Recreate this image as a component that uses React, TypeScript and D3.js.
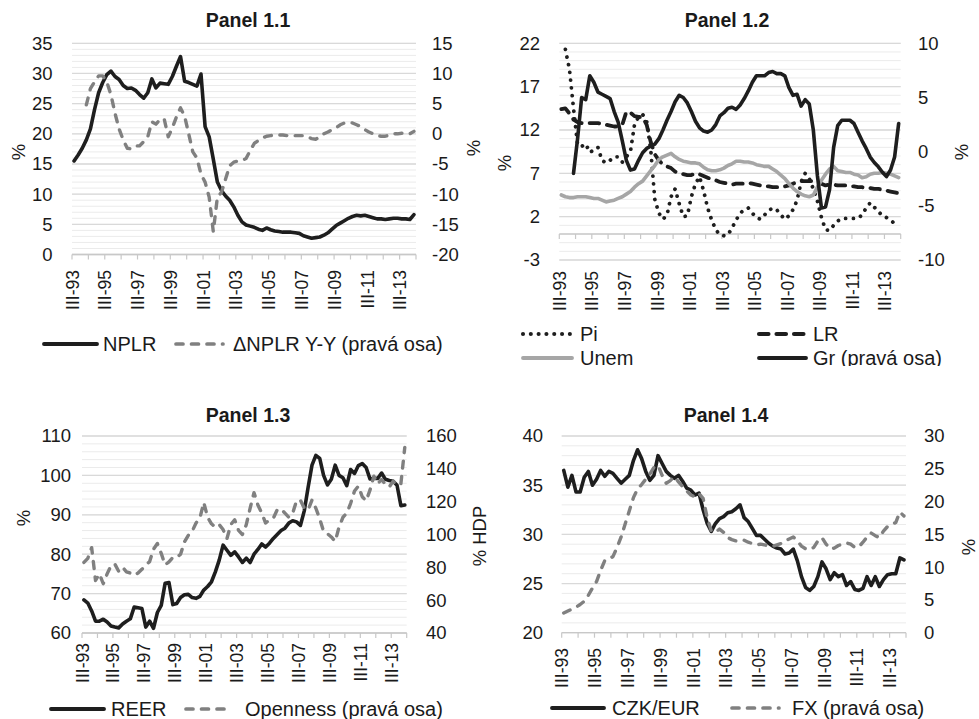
import React from 'react';
import * as d3 from 'd3';

const FONT = '"Liberation Sans", Arial, Helvetica, sans-serif';

// Quarterly categories Q3 1993 .. Q2 2014
const ROMAN = ['I', 'II', 'III', 'IV'];
const quarters: string[] = d3.range(84).map((i) => {
  const q = (2 + i) % 4;
  const y = 1993 + Math.floor((2 + i) / 4);
  return ROMAN[q] + '-' + String(y % 100).padStart(2, '0');
});
const labelEvery = 8;
const tickEvery = 4;

// Panel 1.1
const nplr = [15.5,16.5,17.6,19.0,20.8,24.0,26.8,28.5,29.8,30.4,
 29.5,29.0,28.0,27.5,27.6,27.2,26.5,25.9,26.8,29.1,
 27.6,28.4,28.3,28.2,29.5,31.2,32.8,28.7,28.5,28.2,
 27.9,29.9,21.2,19.5,15.8,12.0,10.6,9.7,9.0,7.9,
 6.5,5.4,4.9,4.7,4.5,4.2,4.0,4.4,4.1,3.9,
 3.8,3.7,3.7,3.7,3.6,3.5,3.1,2.9,2.7,2.8,
 2.9,3.2,3.6,4.2,4.8,5.2,5.6,6.0,6.3,6.5,
 6.4,6.5,6.3,6.1,5.9,5.9,5.8,5.9,6.0,6.0,
 5.9,5.9,5.8,6.6];
const dNplr = [null,null,null,4.8,7.5,8.6,9.6,9.6,8.6,6.5,
 3.4,0.8,-1.0,-2.4,-2.5,-2.0,-2.0,-1.3,-0.5,2.0,
 1.6,2.4,2.5,-0.5,1.0,2.8,4.3,2.9,0.0,-3.0,
 -4.0,-6.7,-8.0,-10.5,-16.2,-10.5,-9.7,-7.5,-5.3,-4.7,
 -4.5,-4.4,-4.1,-2.8,-1.6,-1.1,-0.7,-0.4,-0.3,-0.2,
 -0.2,-0.2,-0.3,-0.4,-0.3,-0.3,-0.3,-0.5,-0.8,-0.9,
 -0.5,0.0,0.3,0.7,1.0,1.5,1.8,1.9,1.8,1.5,
 1.2,0.7,0.3,0.0,-0.3,-0.4,-0.4,-0.2,0.0,0.0,
 0.1,0.1,0.0,0.4];

// Panel 1.2
const pi = [null,21.3,19.0,14.5,10.3,10.1,10.4,9.4,9.7,10.0,
 8.5,8.2,8.5,8.9,8.9,8.3,8.9,9.5,12.6,13.5,
 13.8,13.0,9.7,4.0,2.4,1.7,2.2,4.3,5.2,3.5,
 2.0,2.1,4.3,5.8,6.6,5.0,3.0,1.6,0.5,-0.1,
 -0.2,-0.1,0.7,1.6,2.4,2.8,3.0,2.4,1.9,1.7,
 2.2,2.7,3.0,2.8,2.2,1.7,2.1,2.8,3.9,6.0,
 7.0,6.4,5.2,3.8,1.9,0.5,0.4,1.0,1.5,1.8,
 1.8,1.8,1.8,1.8,2.2,3.0,3.6,3.1,2.6,2.1,
 1.9,1.6,1.2,0.9];
const lr = [14.4,14.5,13.9,13.2,12.9,12.8,12.8,12.8,12.8,12.8,
 12.7,12.6,12.5,12.4,12.4,12.6,14.1,14.0,13.6,13.5,
 13.5,12.6,10.6,9.2,8.5,8.0,7.8,7.6,7.2,7.0,
 6.9,6.8,6.8,7.0,6.9,6.7,6.5,6.3,6.2,6.0,
 5.9,5.8,5.7,5.8,5.8,5.8,5.9,5.8,5.7,5.6,
 5.5,5.5,5.4,5.4,5.4,5.5,5.6,5.8,6.0,6.1,
 6.1,6.1,6.1,5.9,5.8,5.6,5.7,5.7,5.6,5.6,
 5.6,5.5,5.5,5.4,5.4,5.3,5.3,5.2,5.2,5.1,
 5.0,4.9,4.8,4.7];
const unem = [4.5,4.3,4.2,4.2,4.3,4.3,4.3,4.2,4.1,4.1,
 3.9,3.7,3.8,3.9,4.1,4.3,4.6,4.9,5.4,5.8,
 6.1,6.7,7.3,7.9,8.6,8.9,9.1,9.3,8.9,8.6,
 8.4,8.3,8.2,8.2,8.1,7.7,7.4,7.3,7.3,7.4,
 7.6,7.9,8.1,8.4,8.4,8.3,8.3,8.2,8.0,7.9,
 7.8,7.8,7.5,7.2,6.8,6.4,5.8,5.3,4.9,4.6,
 4.4,4.3,4.5,5.4,6.2,6.9,7.5,7.8,7.3,7.2,
 7.1,7.1,6.9,6.8,6.5,6.6,6.9,7.0,7.0,7.1,
 7.0,6.9,6.7,6.5];
const gr = [null,null,null,-2.0,1.2,5.0,4.8,7.0,6.4,5.5,
 5.3,5.1,4.9,3.7,2.7,1.0,-0.8,-1.7,-1.6,-0.8,
 -0.1,0.3,0.5,0.7,1.2,2.0,2.9,3.7,4.6,5.2,
 5.0,4.5,3.7,2.8,2.2,1.9,1.8,2.0,2.5,3.3,
 3.6,4.0,4.1,3.9,4.3,4.9,5.6,6.4,7.0,7.0,
 7.0,7.3,7.4,7.2,7.2,7.0,5.9,5.2,5.3,4.2,
 4.8,4.4,2.0,-2.2,-5.2,-5.1,-3.5,0.4,2.4,2.9,
 2.9,2.9,2.6,1.8,1.0,0.3,-0.5,-1.0,-1.4,-1.9,
 -2.3,-1.7,-0.5,2.6];

// Panel 1.3
const reer = [68.4,67.6,65.6,63.0,63.0,63.5,62.8,61.8,61.5,61.3,
 62.3,63.0,63.6,66.6,66.4,66.2,61.5,63.0,61.2,65.2,
 67.0,72.6,72.8,67.2,67.5,69.0,69.7,69.8,69.0,68.8,
 69.3,70.9,71.8,73.0,75.5,78.5,82.3,81.0,79.7,80.6,
 79.3,77.9,79.0,77.9,80.0,81.2,82.6,81.8,82.8,84.0,
 85.0,86.0,86.6,87.9,88.5,88.2,87.3,91.0,97.0,102.6,
 105.1,104.3,100.0,97.6,99.0,102.6,100.0,99.4,97.4,101.5,
 100.5,102.5,103.0,102.0,99.1,99.3,99.2,100.6,99.0,98.7,
 98.5,97.5,92.3,92.5];
const openness = [83.0,85.5,92.0,72.0,76.0,70.0,76.0,81.0,82.0,77.5,
 80.0,77.3,76.5,75.2,76.5,78.8,81.5,83.5,91.0,94.5,
 88.5,81.5,83.3,86.0,86.0,88.0,95.5,99.5,102.0,107.0,
 110.0,119.5,110.5,106.5,104.5,106.0,103.0,97.5,106.0,109.0,
 102.5,100.0,106.0,116.0,125.5,118.0,113.0,107.0,109.0,110.0,
 115.0,115.5,113.0,110.5,113.0,120.5,121.0,116.0,115.0,121.0,
 116.0,109.5,102.0,100.5,98.5,95.8,104.5,110.5,113.0,119.0,
 126.5,129.5,123.0,120.5,127.0,135.5,131.0,133.5,130.5,129.0,
 132.5,130.0,131.0,153.0];

// Panel 1.4
const czkEur = [36.5,34.8,36.0,34.3,34.3,35.8,36.4,35.0,35.6,36.5,
 35.9,36.4,36.2,35.7,35.2,35.6,36.0,37.5,38.6,37.7,
 36.4,35.5,36.0,38.0,37.2,36.4,36.0,35.7,36.0,35.4,
 34.7,34.5,34.0,34.2,32.5,31.1,30.3,31.1,31.6,31.8,
 32.2,32.3,32.6,33.0,31.7,31.3,30.6,29.9,29.9,29.5,
 29.1,28.8,28.6,28.5,28.0,28.1,28.5,27.3,25.7,24.6,
 24.3,24.7,25.7,27.2,26.5,25.4,26.1,25.7,25.9,24.8,
 25.2,24.4,24.3,24.5,25.7,24.8,25.7,24.7,25.4,25.9,
 26.0,26.0,27.6,27.4];
const fx = [3.0,3.3,3.6,3.9,4.3,4.8,5.7,6.8,7.8,9.5,
 11.0,11.3,11.6,13.0,14.6,16.6,18.6,20.6,21.9,22.6,
 23.4,24.2,25.2,25.5,24.0,22.8,23.2,23.8,23.0,22.3,
 21.6,21.0,20.7,21.2,20.5,17.5,15.5,15.3,15.8,15.3,
 14.5,14.2,14.0,14.0,14.1,13.8,13.6,13.4,13.5,13.4,
 13.2,13.2,13.4,13.6,14.0,14.3,14.6,14.0,13.2,12.8,
 12.7,13.0,14.0,14.5,13.5,12.8,12.9,13.3,13.5,13.7,
 13.5,13.0,13.1,13.8,14.6,15.2,14.8,14.5,15.5,16.2,
 16.5,16.8,18.4,17.8];

const BLACK = '#1e1e1e';
const GRAY = '#808080';
const LGRAY = '#a6a6a6';
const TEXT = '#1a1a1a';

type Ser = {
  name: string;
  values: (number | null)[];
  axis: 'L' | 'R';
  color: string;
  width: number;
  dash?: string;
  cap?: 'round' | 'butt';
};
type Leg = { s: number; x1: number; x2: number; y: number; tx: number };
type Cfg = {
  id: string;
  title: string; titleX: number; titleY: number;
  x0: number; x1: number; yTop: number; yBot: number;
  left: [number, number, number, number];
  right: [number, number, number];
  axisAt?: number;
  lLabX: number; rLabX: number;
  lTitle?: { t: string; x: number; y: number };
  rTitle: { t: string; x: number; y: number };
  xLabTop: number;
  series: Ser[];
  legend: Leg[];
  clipY?: number;
};

const solid = (name: string, values: (number | null)[], axis: 'L' | 'R', color = BLACK): Ser =>
  ({ name, values, axis, color, width: 3.6, cap: 'round' });
const dashed = (name: string, values: (number | null)[], axis: 'L' | 'R', color = GRAY): Ser =>
  ({ name, values, axis, color, width: 3.4, dash: '7,8.5', cap: 'round' });

const panels: Cfg[] = [
  {
    id: 'p11', title: 'Panel 1.1', titleX: 248, titleY: 27,
    x0: 72, x1: 416, yTop: 43.3, yBot: 254.5,
    left: [0, 35, 5, 1], right: [-20, 15, 5],
    lLabX: 52.5, rLabX: 432,
    lTitle: { t: '%', x: 19, y: 152 }, rTitle: { t: '%', x: 474, y: 148 },
    xLabTop: 270,
    series: [solid('NPLR', nplr, 'L'), dashed('ΔNPLR Y-Y (pravá osa)', dNplr, 'R')],
    legend: [
      { s: 0, x1: 44, x2: 97, y: 344, tx: 103 },
      { s: 1, x1: 176, x2: 223, y: 344, tx: 233 },
    ],
  },
  {
    id: 'p12', title: 'Panel 1.2', titleX: 727, titleY: 27,
    x0: 559.3, x1: 900.7, yTop: 43.3, yBot: 260,
    left: [-3, 22, 5, 1], right: [-10, 10, 5], axisAt: 0,
    lLabX: 540, rLabX: 918,
    lTitle: { t: '%', x: 505, y: 163 }, rTitle: { t: '%', x: 962, y: 152 },
    xLabTop: 271,
    series: [
      { name: 'Pi', values: pi, axis: 'L', color: BLACK, width: 3.8, dash: '0.01,7.8', cap: 'round' },
      { name: 'LR', values: lr, axis: 'L', color: BLACK, width: 3.8, dash: '9.5,8', cap: 'round' },
      solid('Unem', unem, 'L', LGRAY),
      solid('Gr (pravá osa)', gr, 'R'),
    ],
    legend: [
      { s: 0, x1: 523, x2: 572, y: 334, tx: 580 },
      { s: 1, x1: 759, x2: 804, y: 334, tx: 813 },
      { s: 2, x1: 523, x2: 572, y: 358, tx: 580 },
      { s: 3, x1: 759, x2: 806, y: 358, tx: 813 },
    ],
    clipY: 366,
  },
  {
    id: 'p13', title: 'Panel 1.3', titleX: 248, titleY: 422,
    x0: 82, x1: 406.7, yTop: 436, yBot: 633,
    left: [60, 110, 10, 2], right: [40, 160, 20],
    lLabX: 71, rLabX: 426,
    lTitle: { t: '%', x: 24, y: 518 }, rTitle: { t: '% HDP', x: 480, y: 536 },
    xLabTop: 643,
    series: [solid('REER', reer, 'L'), dashed('Openness (pravá osa)', openness, 'R')],
    legend: [
      { s: 0, x1: 51, x2: 104, y: 709, tx: 111 },
      { s: 1, x1: 186, x2: 232, y: 709, tx: 245 },
    ],
  },
  {
    id: 'p14', title: 'Panel 1.4', titleX: 726, titleY: 422,
    x0: 561.7, x1: 906, yTop: 436, yBot: 632.7,
    left: [20, 40, 5, 1], right: [0, 30, 5],
    lLabX: 543, rLabX: 924,
    rTitle: { t: '%', x: 969, y: 547 },
    xLabTop: 648,
    series: [solid('CZK/EUR', czkEur, 'L'), dashed('FX (pravá osa)', fx, 'R')],
    legend: [
      { s: 0, x1: 552, x2: 604, y: 708, tx: 612 },
      { s: 1, x1: 732, x2: 779, y: 708, tx: 792 },
    ],
  },
];

function Panel({ c }: { c: Cfg }) {
  const x = d3.scaleBand<string>().domain(quarters).range([c.x0, c.x1]).padding(0);
  const bw = x.bandwidth();
  const cx = (i: number) => (x(quarters[i]) as number) + bw / 2;
  const yL = d3.scaleLinear().domain([c.left[0], c.left[1]]).range([c.yBot, c.yTop]);
  const yR = d3.scaleLinear().domain([c.right[0], c.right[1]]).range([c.yBot, c.yTop]);
  const minor = d3.range(c.left[0], c.left[1] + 1e-9, c.left[3]);
  const major = d3.range(c.left[0], c.left[1] + 1e-9, c.left[2]);
  const rTicks = d3.range(c.right[0], c.right[1] + 1e-9, c.right[2]);
  const axisY = c.axisAt != null ? yL(c.axisAt) : c.yBot;
  const tickXs = d3.range(0, quarters.length + 1, tickEvery).map((k) => c.x0 + k * bw);
  const labIdx = d3.range(0, quarters.length, labelEvery);

  const mkLine = (s: Ser) => {
    const y = s.axis === 'L' ? yL : yR;
    return d3
      .line<number | null>()
      .defined((d) => d != null)
      .x((_, i) => cx(i))
      .y((d) => y(d as number))(s.values) || '';
  };

  const drawOrder = [...c.series.filter((s) => s.axis === 'L'), ...c.series.filter((s) => s.axis === 'R')];

  return (
    <g clipPath={c.clipY ? `url(#clip-${c.id})` : undefined}>
      {c.clipY && (
        <defs>
          <clipPath id={`clip-${c.id}`}>
            <rect x={c.x0 - 100} y={0} width={c.x1 - c.x0 + 200} height={c.clipY} />
          </clipPath>
        </defs>
      )}
      <text x={c.titleX} y={c.titleY} textAnchor="middle" fontWeight="bold" fontSize={19.5} fill={TEXT}>
        {c.title}
      </text>
      {minor.map((v) => (
        <line key={'mi' + v} x1={c.x0} x2={c.x1} y1={yL(v)} y2={yL(v)} stroke="#ebebeb" strokeWidth={1} />
      ))}
      {major.map((v) => (
        <line key={'ma' + v} x1={c.x0} x2={c.x1} y1={yL(v)} y2={yL(v)} stroke="#d9d9d9" strokeWidth={1.3} />
      ))}
      <line x1={c.x0} x2={c.x1} y1={axisY} y2={axisY} stroke="#c8c8c8" strokeWidth={1.3} />
      {tickXs.map((tx, k) => (
        <line key={'tk' + k} x1={tx} x2={tx} y1={axisY} y2={axisY + 5} stroke="#c8c8c8" strokeWidth={1.2} />
      ))}
      {major.map((v) => (
        <text key={'ll' + v} x={c.lLabX} y={yL(v)} dy="0.35em" textAnchor="end" fontSize={18.5} fill={TEXT}>
          {v}
        </text>
      ))}
      {rTicks.map((v) => (
        <text key={'rl' + v} x={c.rLabX} y={yR(v)} dy="0.35em" textAnchor="start" fontSize={18.5} fill={TEXT}>
          {v}
        </text>
      ))}
      {c.lTitle && (
        <text transform={`translate(${c.lTitle.x},${c.lTitle.y}) rotate(-90)`} dy="0.35em" textAnchor="middle" fontSize={18.5} fill={TEXT}>
          {c.lTitle.t}
        </text>
      )}
      <text transform={`translate(${c.rTitle.x},${c.rTitle.y}) rotate(-90)`} dy="0.35em" textAnchor="middle" fontSize={18.5} fill={TEXT}>
        {c.rTitle.t}
      </text>
      {labIdx.map((i) => (
        <text key={'xl' + i} transform={`translate(${cx(i) - 1.5},${c.xLabTop}) rotate(-90)`} dy="0.35em" textAnchor="end" fontSize={17.5} fill={TEXT}>
          {quarters[i]}
        </text>
      ))}
      {drawOrder.map((s) => (
        <path key={s.name} d={mkLine(s)} fill="none" stroke={s.color} strokeWidth={s.width}
          strokeDasharray={s.dash} strokeLinecap={s.cap || 'butt'} strokeLinejoin="round" />
      ))}
      {c.legend.map((l) => {
        const s = c.series[l.s];
        return (
          <g key={'lg' + l.s}>
            <line x1={l.x1} x2={l.x2} y1={l.y} y2={l.y} stroke={s.color} strokeWidth={s.width + 0.3}
              strokeDasharray={s.dash} strokeLinecap="round" />
            <text x={l.tx} y={l.y + 7} fontSize={20} fill={TEXT}>{s.name}</text>
          </g>
        );
      })}
    </g>
  );
}

export default function App() {
  return (
    <svg width={979} height={719} style={{ position: 'absolute', left: 0, top: 0, background: '#fff' }}
      fontFamily={FONT}>
      <rect x={0} y={0} width={979} height={719} fill="#fff" />
      {panels.map((c) => (
        <Panel key={c.id} c={c} />
      ))}
    </svg>
  );
}
